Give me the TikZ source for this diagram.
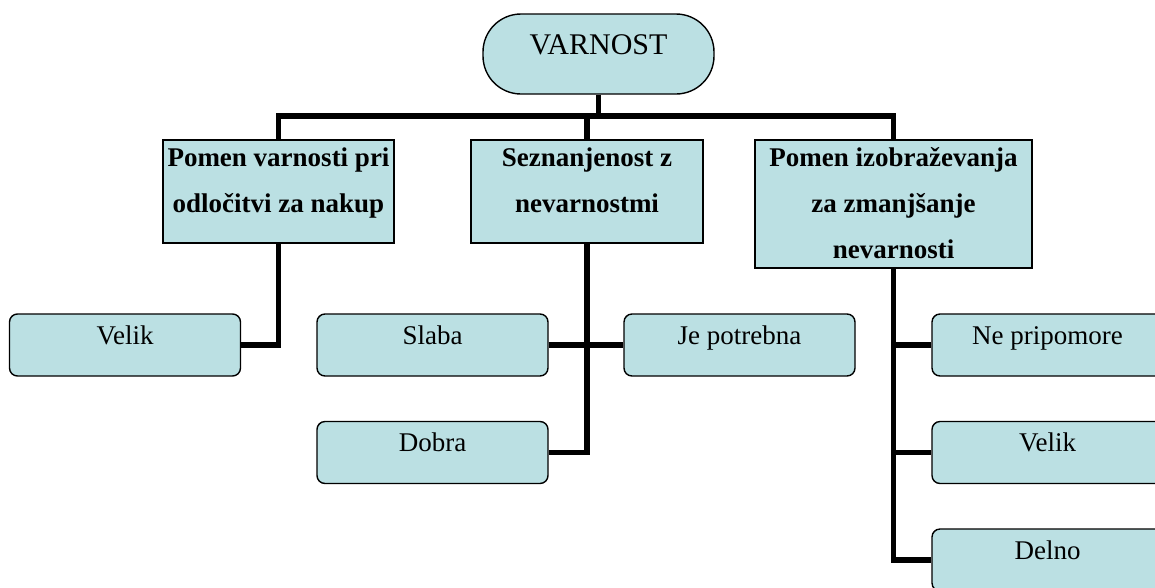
\documentclass[tikz,border=0pt]{standalone}
\usepackage{fontspec}
\setmainfont{Liberation Serif}
\definecolor{boxfill}{HTML}{BBE0E3}
\newcommand{\boxtxt}[4]{\parbox[c][#2pt][t]{#1pt}{\centering\rule{0pt}{#3pt}#4}}
\tikzset{
  rootbox/.style={draw, line width=1.4pt, fill=boxfill, inner sep=0pt, rounded corners=38pt, font=\fontsize{30}{36}\selectfont},
  lvlbox/.style={draw, line width=1.4pt, fill=boxfill, inner sep=0pt, font=\bfseries\fontsize{27}{46}\selectfont},
  leafbox/.style={draw, line width=1.4pt, fill=boxfill, inner sep=0pt, rounded corners=8pt, font=\fontsize{27}{32}\selectfont},
  conn/.style={line width=5.5pt},
}
\begin{document}
\begin{tikzpicture}[x=1pt,y=-1pt]
\clip (0,0) rectangle (1155,587);
\coordinate (bus) at (0,116);
\path
  (598.5,54) node[rootbox] (root) {\boxtxt{231}{80}{40}{VARNOST}}
  (278.5,191.5) node[lvlbox] (b1) {\boxtxt{231}{103}{26}{Pomen varnosti pri\\odločitvi za nakup}}
  (587,191.5) node[lvlbox] (b2) {\boxtxt{232}{103}{26}{Seznanjenost z\\nevarnostmi}}
  (893.5,204) node[lvlbox] (b3) {\boxtxt{277}{128}{26}{Pomen izobraževanja\\za zmanjšanje\\nevarnosti}}
  (125,345) node[leafbox] (velikA) {\boxtxt{231}{62}{30}{Velik}}
  (432.5,345) node[leafbox] (slaba) {\boxtxt{231}{62}{30}{Slaba}}
  (739.5,345) node[leafbox] (jepot) {\boxtxt{231}{62}{30}{Je potrebna}}
  (432.5,452.5) node[leafbox] (dobra) {\boxtxt{231}{62}{30}{Dobra}}
  (1047.5,345) node[leafbox] (nepri) {\boxtxt{231}{62}{30}{Ne pripomore}}
  (1047.5,452.5) node[leafbox] (velikB) {\boxtxt{231}{62}{30}{Velik}}
  (1047.5,560) node[leafbox] (delno) {\boxtxt{231}{62}{30}{Delno}};
\draw[conn] (root.south) -- (root.south |- bus);
\draw[conn] (b1.north) -- (b1.north |- bus) -- (b3.north |- bus) -- (b3.north);
\draw[conn] (b2.north) -- (b2.north |- bus);
\draw[conn] (b1.south) |- (velikA.east);
\draw[conn] (b2.south) |- (dobra.east);
\draw[conn] (slaba.east) -- (jepot.west);
\draw[conn] (b3.south) |- (delno.west);
\draw[conn] (b3.south |- nepri.west) -- (nepri.west);
\draw[conn] (b3.south |- velikB.west) -- (velikB.west);
\end{tikzpicture}
\end{document}
